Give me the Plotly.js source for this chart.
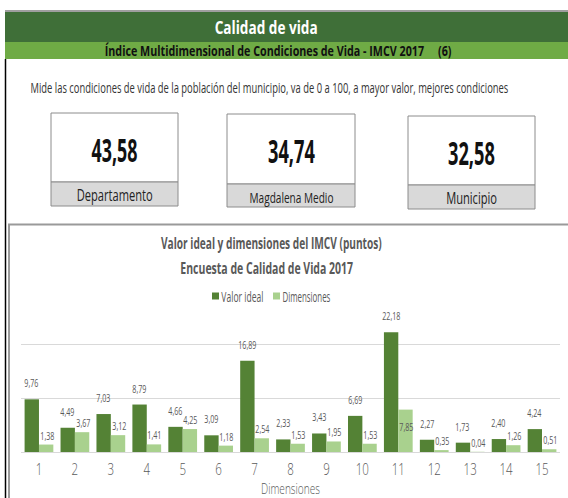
<!DOCTYPE html>
<html>
<head>
<meta charset="utf-8">
<script src="https://cdn.plot.ly/plotly-3.0.1.min.js"></script>
<style>
html,body{margin:0;padding:0;background:#fff;}
#chart{width:568px;height:498px;}
</style>
</head>
<body>
<div id="chart"></div>
<script>
// ---- data ----
const categories = ['1','2','3','4','5','6','7','8','9','10','11','12','13','14','15'];
const valorIdeal = [9.76, 4.49, 7.03, 8.79, 4.66, 3.09, 16.89, 2.33, 3.43, 6.69, 22.18, 2.27, 1.73, 2.40, 4.24];
const dimensiones = [1.38, 3.67, 3.12, 1.41, 4.25, 1.18, 2.54, 1.53, 1.95, 1.53, 7.85, 0.35, 0.04, 1.26, 0.51];
const summaryLabels = ['Departamento', 'Magdalena Medio', 'Municipio'];
const summaryValues = [43.58, 34.74, 32.58];
const seriesNames = ['Valor ideal', 'Dimensiones'];

// ---- layout helpers ----
const W = 568, H = 498;
const L = 21, R = 8, T = 317, B = 46;
const PW = W - L - R, PH = H - T - B;
const X = px => (px - L) / PW;
const Y = py => (H - B - py) / PH;
const FONT = "'Open Sans', 'Noto Sans', sans-serif";
const fmt = v => v.toFixed(2).replace('.', ',');
const DARK = '#548235', LIGHT = '#A9D18E', GREY = '#595959';

// condensed look: rendered widths (px) for the text of the original
const widthTargets = {};
const DEFAULT_FACTOR = 0.68;

const shapes = [];
const annotations = [];
function rect(x0, y0, x1, y1, fill, line, lw) {
  shapes.push({type:'rect', xref:'paper', yref:'paper', x0:X(x0), x1:X(x1), y0:Y(y0), y1:Y(y1),
    fillcolor: fill, line:{color: line || 'rgba(0,0,0,0)', width: lw || 0}, layer:'below'});
}
function line(x0, y0, x1, y1, color, w) {
  shapes.push({type:'line', xref:'paper', yref:'paper', x0:X(x0), x1:X(x1), y0:Y(y0), y1:Y(y1),
    line:{color: color, width: w}, layer:'below'});
}
function text(str, px, py, size, color, weight, target) {
  annotations.push({xref:'paper', yref:'paper', x:X(px), y:Y(py), xanchor:'center', yanchor:'middle',
    text: str, showarrow:false, font:{family: FONT, size:size, color:color, weight: weight}});
  widthTargets[str] = target;
}

// header
line(5, 11, 568, 11, '#7f7f7f', 1.5);
rect(5, 12, 568, 42, '#3F6F38');
rect(5, 42, 568, 59, '#6FAB45');
line(5.5, 59, 5.5, 498, '#000000', 1.5);
text('Calidad de vida', 265.5, 27, 18, '#ffffff', 700, 103);
text('Índice Multidimensional de Condiciones de Vida - IMCV 2017\u00a0\u00a0\u00a0\u00a0\u00a0(6)', 277.5, 50, 14, '#111111', 700, 347);
text('Mide las condiciones de vida de la población del municipio, va de 0 a 100, a mayor valor, mejores condiciones', 269, 87, 14.5, '#333333', 400, 478);

// summary boxes
const boxes = [[51, 113, 178, 206, 182], [227, 114, 355, 207, 184], [408, 116, 535, 209, 185]];
const numTargets = [46, 47, 47];
const labTargets = [76, 84, 51];
summaryValues.forEach((v, i) => {
  const [x0, y0, x1, y1, ym] = boxes[i];
  rect(x0, y0, x1, ym, '#ffffff', '#8c8c8c', 1);
  rect(x0, ym, x1, y1, '#D9D9D9', '#8c8c8c', 1);
  const cx = (x0 + x1) / 2;
  text(fmt(v), cx, (y0 + ym) / 2 + 2, 33, '#111111', 700, numTargets[i]);
  text(summaryLabels[i], cx, (ym + y1) / 2 + 1, i === 1 ? 15 : 16, '#222222', 400, labTargets[i]);
});

// chart panel
rect(9, 224.5, 600, 600, 'rgba(0,0,0,0)', '#9a9a9a', 2);
text('Valor ideal y dimensiones del IMCV (puntos)', 271.5, 243, 16, GREY, 700, 221);
text('Encuesta de Calidad de Vida 2017', 266.5, 268, 16, GREY, 700, 173);

// legend (swatches + labels)
const legendColors = [DARK, LIGHT];
const legendSwatch = [[212, 219], [273, 280]];
const legendText = [[242, 42], [306, 48]];
seriesNames.forEach((n, i) => {
  rect(legendSwatch[i][0], 292.5, legendSwatch[i][1], 299.5, legendColors[i]);
  text(n, legendText[i][0], 296, 14, GREY, 400, legendText[i][1]);
});

// data labels
const LBL = 10.5;
const half = PW / categories.length * 0.8 / 4;
categories.forEach((c, i) => {
  annotations.push({xref:'x', yref:'y', x:i, y:valorIdeal[i], xshift:-half, yanchor:'bottom', yshift:7,
    text: fmt(valorIdeal[i]), showarrow:false, font:{family:FONT, size:LBL, color:GREY}});
  const big = dimensiones[i] > 5;
  annotations.push({xref:'x', yref:'y', x:i, y: big ? dimensiones[i] * 0.6 : dimensiones[i], xshift:half + 1,
    yanchor: big ? 'middle' : 'bottom', yshift: 0,
    text: fmt(dimensiones[i]), showarrow:false, font:{family:FONT, size:LBL, color:GREY}});
});

const traces = [
  {type:'bar', name:seriesNames[0], x:categories, y:valorIdeal, marker:{color:DARK}, hoverinfo:'none'},
  {type:'bar', name:seriesNames[1], x:categories, y:dimensiones, marker:{color:LIGHT}, hoverinfo:'none'}
];

const layout = {
  width:W, height:H,
  margin:{l:L, r:R, t:T, b:B, pad:0},
  paper_bgcolor:'#ffffff', plot_bgcolor:'rgba(0,0,0,0)',
  barmode:'group', bargap:0.2, bargroupgap:0,
  font:{family:FONT, color:GREY},
  showlegend:false,
  xaxis:{type:'category', range:[-0.5, categories.length - 0.5], showgrid:false, zeroline:false, showline:false, ticks:'',
    tickfont:{family:FONT, size:17, color:GREY, weight:300}, ticklabelstandoff:5,
    title:{text:'Dimensiones', font:{family:FONT, size:14.5, color:GREY, weight:300}, standoff:1}},
  yaxis:{range:[0,25], dtick:10, showticklabels:false, showgrid:true, gridcolor:'#D9D9D9', gridwidth:1,
    zeroline:true, zerolinecolor:'#D9D9D9', zerolinewidth:1, showline:false, ticks:'', fixedrange:true},
  shapes:shapes,
  annotations:annotations
};

// horizontally condense each text around its anchor point
function condense() {
  document.querySelectorAll('#chart svg text').forEach(t => {
    const s = t.textContent;
    if (!s) return;
    const natural = t.getComputedTextLength();
    if (!natural) return;
    let target;
    if (t.classList.contains('xtitle')) target = 59;
    else if (widthTargets[s] !== undefined) target = widthTargets[s];
    else target = natural * DEFAULT_FACTOR;
    const f = target / natural;
    const x = parseFloat(t.getAttribute('x')) || 0;
    const prev = t.getAttribute('transform') || '';
    t.setAttribute('transform', `${prev} translate(${x},0) scale(${f.toFixed(4)},1) translate(${-x},0)`.trim());
  });
}

Plotly.newPlot('chart', traces, layout, {displayModeBar:false, staticPlot:true}).then(condense);
</script>
</body>
</html>
